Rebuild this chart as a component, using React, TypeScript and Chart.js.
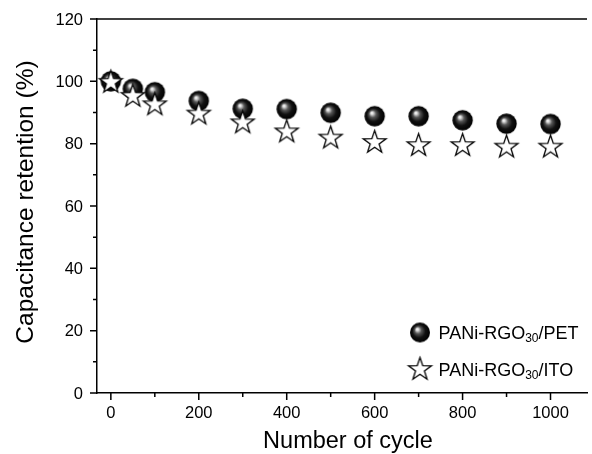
import React, { useEffect, useRef } from "react";
import { Chart, registerables } from "chart.js";

Chart.register(...registerables);

const cycles = [0, 50, 100, 200, 300, 400, 500, 600, 700, 800, 900, 1000];
const petRetention = [100, 97.6, 96.5, 93.7, 91.2, 91.1, 89.9, 88.8, 88.8, 87.5, 86.4, 86.3];
const itoRetention = [100, 95.5, 92.8, 89.8, 87.0, 84.1, 82.1, 80.7, 79.7, 79.7, 79.2, 79.2];
const xTickValues = [0, 200, 400, 600, 800, 1000];
const xMinorValues = [100, 300, 500, 700, 900];
const yTickValues = [0, 20, 40, 60, 80, 100, 120];
const yMinorValues = [10, 30, 50, 70, 90, 110];
const legendLabels = [
  { main: "PANi-RGO", sub: "30", tail: "/PET" },
  { main: "PANi-RGO", sub: "30", tail: "/ITO" },
];

const FONT = "'Liberation Sans', Arial, sans-serif";

function makeSphere(r: number): HTMLCanvasElement {
  const size = Math.ceil(r * 2 + 2);
  const c = document.createElement("canvas");
  c.width = size;
  c.height = size;
  const ctx = c.getContext("2d")!;
  const cx = size / 2;
  const cy = size / 2;
  const g = ctx.createRadialGradient(cx - r * 0.3, cy - r * 0.35, 0, cx, cy, r);
  g.addColorStop(0, "#ffffff");
  g.addColorStop(0.12, "#e0e0e0");
  g.addColorStop(0.35, "#555555");
  g.addColorStop(0.65, "#111111");
  g.addColorStop(1, "#000000");
  ctx.beginPath();
  ctx.arc(cx, cy, r, 0, Math.PI * 2);
  ctx.fillStyle = g;
  ctx.fill();
  return c;
}

function makeStar(R: number, rIn: number, lw: number): HTMLCanvasElement {
  const size = Math.ceil(R * 2 + lw * 2 + 2);
  const c = document.createElement("canvas");
  c.width = size;
  c.height = size;
  const ctx = c.getContext("2d")!;
  const cx = size / 2;
  const cy = size / 2 + 1;
  ctx.beginPath();
  for (let i = 0; i < 10; i++) {
    const rad = i % 2 === 0 ? R : rIn;
    const a = -Math.PI / 2 + (i * Math.PI) / 5;
    const px = cx + rad * Math.cos(a);
    const py = cy + rad * Math.sin(a);
    if (i === 0) ctx.moveTo(px, py);
    else ctx.lineTo(px, py);
  }
  ctx.closePath();
  ctx.fillStyle = "#ffffff";
  ctx.fill();
  ctx.lineWidth = lw;
  ctx.strokeStyle = "#000000";
  ctx.lineJoin = "miter";
  ctx.stroke();
  return c;
}

export default function App() {
  const ref = useRef<HTMLCanvasElement | null>(null);

  useEffect(() => {
    document.body.style.margin = "0";
    const sphere = makeSphere(10.2);
    const star = makeStar(12, 4.7, 1.3);
    const legSphere = makeSphere(10);
    const legStar = makeStar(12, 4.7, 1.3);

    const decor = {
      id: "decor",
      afterDraw(chart: any) {
        const ctx = chart.ctx as CanvasRenderingContext2D;
        const xs = chart.scales.x;
        const ys = chart.scales.y;
        const area = chart.chartArea;
        ctx.save();
        ctx.strokeStyle = "#000";
        ctx.lineWidth = 1.5;
        // top frame
        ctx.beginPath();
        ctx.moveTo(area.left, area.top);
        ctx.lineTo(area.right, area.top);
        ctx.stroke();
        // ticks
        ctx.beginPath();
        yTickValues.forEach((v) => {
          const y = ys.getPixelForValue(v);
          ctx.moveTo(area.left - 7, y);
          ctx.lineTo(area.left, y);
        });
        yMinorValues.forEach((v) => {
          const y = ys.getPixelForValue(v);
          ctx.moveTo(area.left - 4, y);
          ctx.lineTo(area.left, y);
        });
        xTickValues.forEach((v) => {
          const x = xs.getPixelForValue(v);
          ctx.moveTo(x, area.bottom);
          ctx.lineTo(x, area.bottom + 7);
        });
        xMinorValues.forEach((v) => {
          const x = xs.getPixelForValue(v);
          ctx.moveTo(x, area.bottom);
          ctx.lineTo(x, area.bottom + 4);
        });
        ctx.stroke();

        // tick labels
        ctx.fillStyle = "#000";
        ctx.font = `16.5px ${FONT}`;
        ctx.textAlign = "right";
        ctx.textBaseline = "middle";
        yTickValues.forEach((v) => {
          ctx.fillText(String(v), area.left - 14, ys.getPixelForValue(v) + 1);
        });
        ctx.textAlign = "center";
        ctx.textBaseline = "middle";
        xTickValues.forEach((v) => {
          ctx.fillText(String(v), xs.getPixelForValue(v), area.bottom + 20);
        });

        // axis titles
        ctx.textAlign = "center";
        ctx.textBaseline = "alphabetic";
        ctx.font = `23.5px ${FONT}`;
        ctx.fillText("Number of cycle", 348, 448);
        ctx.save();
        ctx.translate(33, 202);
        ctx.rotate(-Math.PI / 2);
        ctx.font = `24.5px ${FONT}`;
        ctx.fillText("Capacitance retention (%)", 0, 0);
        ctx.restore();

        // legend
        const icons = [legSphere, legStar];
        const iconY = [332.5, 368.5];
        const baseY = [339, 376];
        legendLabels.forEach((lab, i) => {
          const icon = icons[i];
          ctx.drawImage(icon, 420 - icon.width / 2, iconY[i] - icon.height / 2);
          let x = 438.5;
          const base = baseY[i];
          ctx.textAlign = "left";
          ctx.textBaseline = "alphabetic";
          ctx.font = `18px ${FONT}`;
          ctx.fillText(lab.main, x, base);
          x += ctx.measureText(lab.main).width;
          ctx.font = `12px ${FONT}`;
          ctx.fillText(lab.sub, x, base + 2.7);
          x += ctx.measureText(lab.sub).width;
          ctx.font = `18px ${FONT}`;
          ctx.fillText(lab.tail, x, base);
        });
        ctx.restore();
      },
    };

    const chart = new Chart(ref.current!, {
      type: "scatter",
      data: {
        datasets: [
          {
            label: "PANi-RGO30/PET",
            data: cycles.map((c, i) => ({ x: c, y: petRetention[i] })),
            pointStyle: sphere as any,
            order: 1,
          },
          {
            label: "PANi-RGO30/ITO",
            data: cycles.map((c, i) => ({ x: c, y: itoRetention[i] })),
            pointStyle: star as any,
            order: 0,
          },
        ],
      },
      options: {
        animation: false,
        responsive: false,
        maintainAspectRatio: false,
        layout: { padding: { left: 0, top: 19, right: 0, bottom: 0 } },
        plugins: { legend: { display: false }, tooltip: { enabled: false } },
        scales: {
          x: {
            type: "linear",
            min: -31.5,
            max: 1083,
            grid: { display: false, drawTicks: false },
            border: { display: true, color: "#000", width: 1.5 },
            ticks: { display: false },
            afterFit: (s: any) => {
              s.height = 61;
            },
          },
          y: {
            type: "linear",
            min: 0,
            max: 120,
            grid: { display: false, drawTicks: false },
            border: { display: true, color: "#000", width: 1.5 },
            ticks: { display: false },
            afterFit: (s: any) => {
              s.width = 97;
            },
          },
        },
      },
      plugins: [decor],
    });
    return () => chart.destroy();
  }, []);

  return (
    <div style={{ position: "absolute", left: 0, top: 0, width: 592, height: 454, background: "#fff" }}>
      <canvas ref={ref} width={592} height={454} style={{ width: 592, height: 454 }} />
    </div>
  );
}
